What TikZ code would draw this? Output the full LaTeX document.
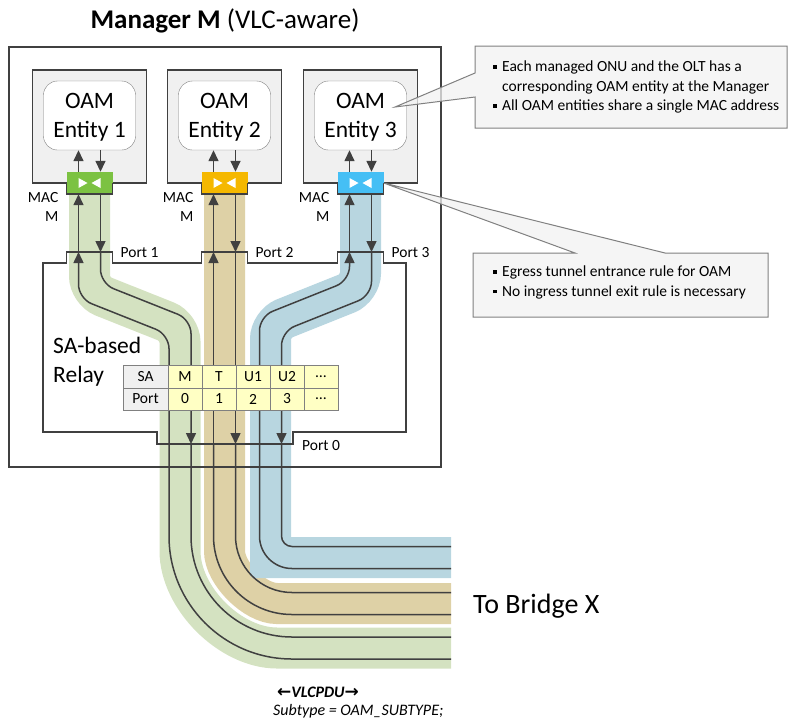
\documentclass[tikz,border=0pt]{standalone}
\usepackage{fontspec}
\setmainfont{Carlito}
\newfontfamily\arrowfont{DejaVu Sans}
\usetikzlibrary{arrows.meta}

\definecolor{linegray}{HTML}{404040}
\definecolor{framegray}{HTML}{808080}
\definecolor{boxgray}{HTML}{F0F0F0}
\definecolor{notegray}{HTML}{F2F2F2}
\definecolor{macgreen}{HTML}{7CC242}
\definecolor{macgold}{HTML}{F5B800}
\definecolor{macblue}{HTML}{45BFF5}
\definecolor{bandgreen}{HTML}{D4E2C1}
\definecolor{bandtan}{HTML}{DED1A6}
\definecolor{bandblue}{HTML}{B8D6E0}
\definecolor{cellyellow}{HTML}{FFFFC4}

\newcommand{\fs}[2]{\fontsize{#1}{#2}\selectfont}
\newcommand{\sqbullet}{\makebox[9pt][l]{\rule[3pt]{3.5pt}{3.5pt}}}

% tunnel band {x top}{y bend 1}{y bend 2}{x bottom}{colour}
\newcommand{\tunnelband}[5]
{
	\draw[#5, line width=41pt, rounded corners=15pt] (#1,194) -- (#1,#2) -- (#4,#3) -- (#4,536)
		arc[start angle=180, end angle=90, radius={292-#4}] -- (451,{828-#4});
}

\tikzset{
	tline/.style={draw=linegray, line width=1.5pt},
	flow/.style={tline, -{Triangle[length=11pt, width=10pt]}},
	entitybox/.style={draw=linegray, line width=1.5pt, fill=boxgray, minimum width=114pt, minimum height=113pt},
	oambox/.style={draw=framegray, fill=white, rounded corners=14pt, minimum width=92pt, minimum height=69pt,
		align=center, inner sep=0pt, text depth=0pt, font=\fs{23.5}{29}},
	macport/.style={minimum width=46pt, minimum height=22pt, inner sep=0pt},
	cell/.style={draw=framegray, fill=cellyellow, minimum width=34pt, minimum height=22.5pt, inner sep=0pt, font=\fs{15.5}{17}},
	smalltext/.style={inner sep=0pt, font=\fs{15.5}{19}},
	notebox/.style={draw=framegray, line width=1pt, fill=notegray, fill opacity=0.75},
	notetext/.style={inner sep=0pt, align=left, font=\fs{15.5}{19.5}}
}

\begin{document}
\begin{tikzpicture}[x=1pt, y=-1pt]
	\useasboundingbox (0,0) rectangle (789,721);

	% manager box and title
	\node[fill=white, minimum width=432pt, minimum height=420pt, inner sep=0pt] (mgr) at (225,257) {};
	\node[anchor=base, font=\fs{27}{30}] (title) at (225,28) {\textbf{Manager M} (VLC-aware)};

	% OAM entities
	\foreach \i/\xt in {1/89.5, 2/224.5, 3/360.5}
	{
		\node[entitybox] (ent\i) at (\xt,126.5) {};
		\node[oambox] (oam\i) at (\xt,115.5) {OAM\\Entity \i};
	}

	% tunnels
	\tunnelband{89.5}{291}{327}{180}{bandgreen}
	\tunnelband{224.5}{300}{320}{224.5}{bandtan}
	\tunnelband{360.5}{288}{324}{270.5}{bandblue}

	\draw[linegray, line width=2pt] (mgr.north west) rectangle (mgr.south east);

	% relay with its ports
	\draw[linegray, line width=1.5pt] (43,263) -- (66.5,263) -- (66.5,252) -- (112.5,252) -- (112.5,263)
		-- (201.5,263) -- (201.5,252) -- (247.5,252) -- (247.5,263)
		-- (337.5,263) -- (337.5,252) -- (383.5,252) -- (383.5,263) -- (406,263) -- (406,432)
		-- (293,432) -- (293,444) -- (157,444) -- (157,432) -- (43,432) -- cycle;
	\node[anchor=base west, align=left, inner sep=0pt, font=\fs{23.5}{29}] (relaylbl) at (53,382) {SA-based\\Relay};
	\node[smalltext, anchor=base west] (port0) at (302,450) {Port 0};

	\foreach \i/\xt/\ya/\yb/\xb/\s in {1/89.5/291/327/180/7.5, 2/224.5/300/320/224.5/0, 3/360.5/288/324/270.5/-7.5}
	{
		\coordinate (rp\i) at (\xt,252);
		\draw[flow, rounded corners=14pt] (\xb-11,444) -- (\xb-11,{\yb+\s}) -- (\xt-11,{\ya+\s}) -- ([xshift=-11pt]rp\i);
		\draw[flow, rounded corners=14pt] ([xshift=11pt]rp\i) -- (\xt+11,{\ya-\s}) -- (\xb+11,{\yb-\s}) -- (\xb+11,444);
		\draw[tline] (\xb-11,444) -- (\xb-11,536) arc[start angle=180, end angle=90, radius={303-\xb}] -- (451,{839-\xb});
		\draw[tline] (\xb+11,444) -- (\xb+11,536) arc[start angle=180, end angle=90, radius={281-\xb}] -- (451,{817-\xb});
	}

	% SA table
	\node[cell, fill=boxgray, minimum width=45pt] (sa) at (145.5,376.5) {SA};
	\node[cell, fill=boxgray, minimum width=45pt] (pn) at (145.5,399) {Port};
	\foreach \sa/\pn [count=\c] in {M/0, T/1, U1/2, U2/3, {\ldots}/{\ldots}}
	{
		\node[cell] (sa\c) at ({151+34*\c},376.5) {\sa};
		\node[cell] (pn\c) at ({151+34*\c},399) {\pn};
	}

	% MAC ports
	\foreach \i/\xt/\col in {1/89.5/macgreen, 2/224.5/macgold, 3/360.5/macblue}
	{
		\node[macport, fill=\col] (mac\i) at (\xt,183) {};
		\draw[linegray, line width=1.5pt] (mac\i.west) -- (mac\i.south west) -- (mac\i.south east) -- (mac\i.east);
		\fill[white] ([xshift=-11pt, yshift=5pt]mac\i.center) -- ([xshift=-2pt]mac\i.center) -- ([xshift=-11pt, yshift=-5pt]mac\i.center) -- cycle;
		\fill[white] ([xshift=11pt, yshift=5pt]mac\i.center) -- ([xshift=2pt]mac\i.center) -- ([xshift=11pt, yshift=-5pt]mac\i.center) -- cycle;

		\draw[flow] ([xshift=-11pt]mac\i.north) -- ([xshift=-11pt]oam\i.south);
		\draw[flow] ([xshift=11pt]oam\i.south) -- ([xshift=11pt]mac\i.north);
		\draw[flow] ([xshift=-11pt]rp\i) -- ([xshift=-11pt]mac\i.south);
		\draw[flow] ([xshift=11pt]mac\i.south) -- ([xshift=11pt]rp\i);

		\node[smalltext, anchor=east, align=right] (maclbl\i) at (\xt-31,206.5) {MAC\\M};
		\node[smalltext, anchor=base west] (portlbl\i) at (\xt+31,257) {Port \i};
	}

	% notes
	\draw[notebox] (475,46) -- (787,46) -- (787,128) -- (475,128) -- (475,97) -- (395,107) -- (475,73) -- cycle;
	\node[notetext, anchor=base west] (note1) at (493,110.7)
		{\sqbullet Each managed ONU and the OLT has a\\\hspace*{9pt}corresponding OAM entity at the Manager\\\sqbullet All OAM entities share a single MAC address};
	\draw[notebox] (473,253) -- (575,253) -- (mac3.east) -- (665,253) -- (768,253) -- (768,317) -- (473,317) -- cycle;
	\node[notetext, anchor=base west] (note2) at (493,296)
		{\sqbullet Egress tunnel entrance rule for OAM\\\sqbullet No ingress tunnel exit rule is necessary};

	\node[anchor=base west, inner sep=0pt, font=\fs{28}{32}] (bridge) at (473,613) {To Bridge X};
	\node[anchor=base west, inner sep=0pt, font=\fs{16}{18}\itshape\bfseries] (pdu) at (277,697) {{\arrowfont\fs{17}{18}←}VLCPDU{\arrowfont\fs{17}{18}→}};
	\node[anchor=base west, inner sep=0pt, font=\fs{16}{18}\itshape] (subtype) at (273,715.5) {Subtype = OAM\_SUBTYPE;};
\end{tikzpicture}
\end{document}
